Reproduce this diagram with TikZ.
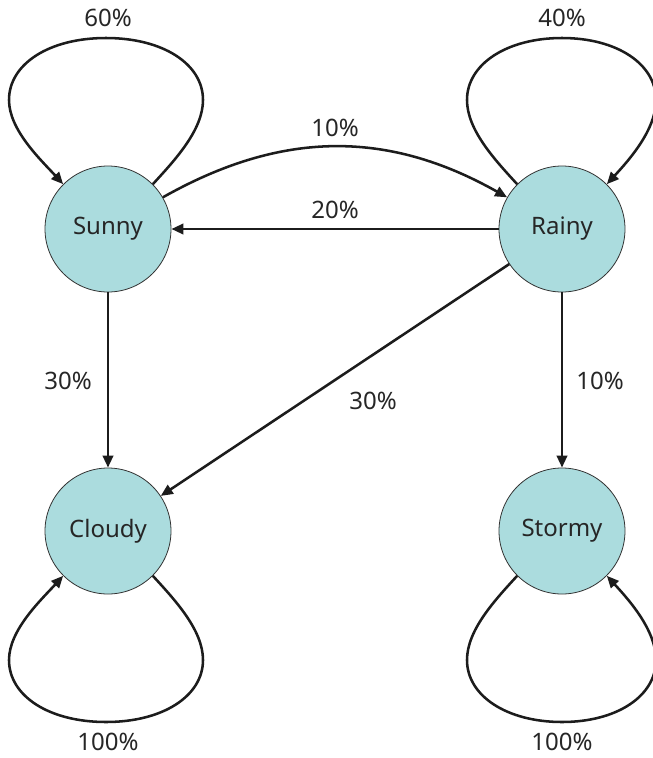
\documentclass[tikz,border=0pt]{standalone}
\usepackage{fontspec}
\setmainfont{Noto Sans}
\usetikzlibrary{arrows.meta}
\definecolor{nodefill}{HTML}{ABDCDE}
\definecolor{linecol}{HTML}{1C1C1C}
\definecolor{txtcol}{HTML}{262626}
\tikzset{
  state/.style={circle, fill=nodefill, draw=black!80, line width=0.6pt, minimum size=94.5pt, inner sep=0pt, text=txtcol, font=\fontsize{18}{21}\selectfont},
  edge/.style={draw=linecol, line width=1.9pt, -{Triangle[length=9pt,width=7.8pt]}},
  lbl/.style={text=txtcol, font=\fontsize{18}{21}\selectfont, inner sep=0pt}
}
\begin{document}
\begin{tikzpicture}[x=0.75pt,y=-0.75pt]
\useasboundingbox (0,0) rectangle (653,758);
\node[state] (Sunny) at (108,229) {\raisebox{-2pt}{Sunny}};
\node[state] (Rainy) at (562,229) {\raisebox{-2pt}{Rainy}};
\node[state] (Cloudy) at (108,531) {\raisebox{-2pt}{Cloudy}};
\node[state] (Stormy) at (562,531) {\raisebox{-2pt}{Stormy}};

% self loops
\begin{scope}[shift={(108,229)}]
\draw[edge] (Sunny.45) .. controls (67,-69) and (95,-99) .. (95,-129)
  .. controls (95,-165) and (55,-191) .. (-2,-191)
  .. controls (-59,-191) and (-99,-165) .. (-99,-129)
  .. controls (-99,-99) and (-67,-69) .. (Sunny.135);
\end{scope}
\begin{scope}[shift={(562,229)}]
\draw[edge] (Rainy.135) .. controls (-67,-69) and (-95,-99) .. (-95,-129)
  .. controls (-95,-165) and (-55,-191) .. (0,-191)
  .. controls (55,-191) and (94,-165) .. (94,-129)
  .. controls (94,-99) and (67,-69) .. (Rainy.45);
\end{scope}
\begin{scope}[shift={(108,531)}]
\draw[edge] (Cloudy.-45) .. controls (67,69) and (95,99) .. (95,129)
  .. controls (95,165) and (55,191) .. (-2,191)
  .. controls (-59,191) and (-99,165) .. (-99,129)
  .. controls (-99,99) and (-67,69) .. (Cloudy.-135);
\end{scope}
\begin{scope}[shift={(562,531)}]
\draw[edge] (Stormy.-135) .. controls (-67,69) and (-95,99) .. (-95,129)
  .. controls (-95,165) and (-55,191) .. (0,191)
  .. controls (55,191) and (94,165) .. (94,129)
  .. controls (94,99) and (67,69) .. (Stormy.-45);
\end{scope}

% transitions
\draw[edge] (Sunny.30) .. controls (282,130) and (388,130) .. (Rainy.150);
\draw[edge] (Rainy) -- (Sunny);
\draw[edge] (Sunny) -- (Cloudy);
\draw[edge] (Rainy) -- (Cloudy);
\draw[edge] (Rainy) -- (Stormy);

% labels
\node[lbl] (l60) at (108,18) {60\%};
\node[lbl] (l40) at (562,18) {40\%};
\node[lbl] (l100a) at (108,742) {100\%};
\node[lbl] (l100b) at (562,742) {100\%};
\node[lbl] (l10a) at (335,128) {10\%};
\node[lbl] (l20) at (335,210) {20\%};
\node[lbl] (l30a) at (68,381) {30\%};
\node[lbl] (l30b) at (373,401) {30\%};
\node[lbl] (l10b) at (600,381) {10\%};
\end{tikzpicture}
\end{document}
